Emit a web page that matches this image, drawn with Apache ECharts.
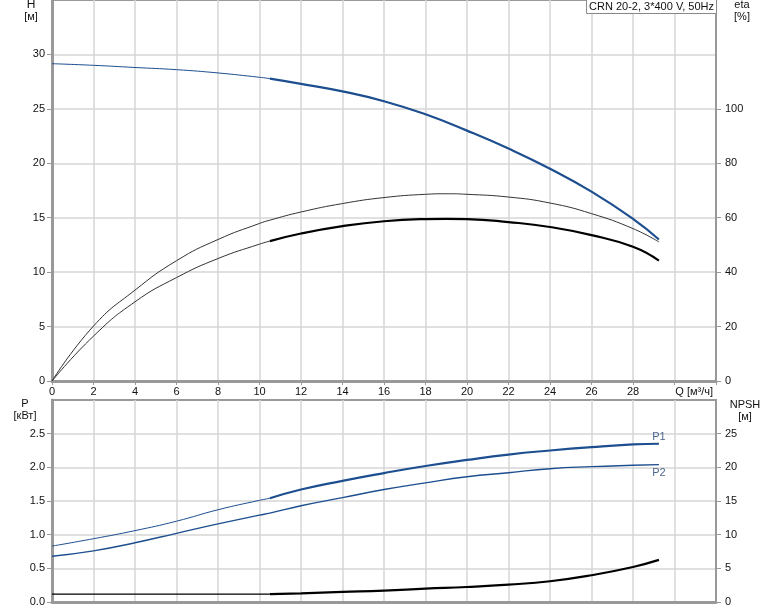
<!DOCTYPE html>
<html><head><meta charset="utf-8">
<script src="https://cdn.jsdelivr.net/npm/echarts@6/dist/echarts.min.js"></script>
<style>html,body{margin:0;padding:0;background:#fff}#c{width:774px;height:611px}</style>
</head><body><div id="c"></div>
<script>
// ---- data ----
const title = 'CRN 20-2, 3*400 V, 50Hz';
const opStart = 10.5;      // start of thick (operating) range, m³/h
const qH   = [0, 2, 4, 6, 8, 10, 10.5, 12, 14, 16, 18, 20, 22, 24, 26, 28, 29.25];
const head = [29.15, 29.0, 28.8, 28.6, 28.3, 27.9, 27.78, 27.3, 26.6, 25.7, 24.5, 23.0, 21.35, 19.5, 17.4, 14.9, 13.0];
const qEta = [0, 2, 4, 6, 8, 10, 10.5, 12, 14, 16, 18, 19, 20, 22, 24, 26, 28, 29.25];
const etaUpper = [0, 20.2, 33.4, 44.2, 52.0, 57.9, 59.1, 62.1, 65.2, 67.4, 68.6, 68.8, 68.6, 67.6, 65.4, 61.5, 56.0, 51.1];
const etaLower = [0, 16.5, 29.1, 38.0, 45.0, 50.3, 51.4, 54.2, 56.9, 58.7, 59.5, 59.6, 59.5, 58.4, 56.6, 53.6, 49.3, 44.2];
const qP  = [0, 2, 4, 6, 8, 10, 10.5, 12, 14, 16, 18, 20, 22, 24, 26, 28, 29.25];
const p1  = [0.83, 0.94, 1.06, 1.20, 1.37, 1.51, 1.54, 1.67, 1.80, 1.915, 2.02, 2.11, 2.19, 2.25, 2.30, 2.34, 2.35];
const p2  = [0.68, 0.76, 0.88, 1.02, 1.16, 1.29, 1.32, 1.43, 1.55, 1.67, 1.77, 1.86, 1.92, 1.98, 2.01, 2.03, 2.04];
const npsh = [1.17, 1.17, 1.17, 1.17, 1.17, 1.17, 1.18, 1.29, 1.49, 1.69, 1.98, 2.23, 2.58, 3.08, 3.97, 5.2, 6.25];
const qTicks = [0, 2, 4, 6, 8, 10, 12, 14, 16, 18, 20, 22, 24, 26, 28];
const hTicks = [0, 5, 10, 15, 20, 25, 30];
const etaTicks = [0, 20, 40, 60, 80, 100];
const pTicks = [0, 0.5, 1.0, 1.5, 2.0, 2.5];
const npshTicks = [0, 5, 10, 15, 20, 25];

// ---- helpers ----
function seg(xs, ys, lo, hi) {
  const out = [];
  for (let i = 0; i < xs.length; i++) if (xs[i] >= lo && xs[i] <= hi) out.push([xs[i], ys[i]]);
  return out;
}
const last = (xs, ys) => [[xs[xs.length - 1], ys[ys.length - 1]]];
const FONT = 'Liberation Sans, Arial, sans-serif';
const BLUE = '#1d4e8f';
const gridLine = { show: true, lineStyle: { color: '#d6d6d6', width: 1.5 } };
const lbl = { fontFamily: FONT, fontSize: 11, color: '#111' };
function line(name, data, xi, yi, color, width, extra) {
  return Object.assign({
    name, type: 'line', xAxisIndex: xi, yAxisIndex: yi, data,
    smooth: true, showSymbol: false, symbol: 'none', silent: true,
    lineStyle: { color, width }, itemStyle: { color }
  }, extra || {});
}
function tag(text, pt, xi, yi, pos, dist) {
  return {
    type: 'scatter', xAxisIndex: xi, yAxisIndex: yi, data: pt, symbolSize: 1, silent: true,
    itemStyle: { color: 'rgba(0,0,0,0)' },
    label: { show: true, formatter: text, position: pos, distance: dist, fontFamily: FONT, fontSize: 11, color: '#1d3f70' }
  };
}

const chart = echarts.init(document.getElementById('c'), null, { renderer: 'canvas' });
const xCommon = {
  type: 'value', min: 0, max: 32, interval: 2,
  splitLine: gridLine,
  axisLine: { show: true, onZero: false, lineStyle: { color: '#999', width: 3 } }
};
chart.setOption({
  animation: false,
  backgroundColor: '#fff',
  title: {
    text: title, right: 57, top: -1, padding: [2, 3, 2, 3],
    backgroundColor: '#fff', borderColor: '#888', borderWidth: 1,
    textStyle: { fontFamily: FONT, fontSize: 11, fontWeight: 'normal', color: '#111' }
  },
  grid: [
    { left: 52, right: 58, top: 0, height: 381, show: true, borderColor: '#999', borderWidth: 2, backgroundColor: 'transparent' },
    { left: 52, right: 58, top: 400, height: 202, show: true, borderColor: '#999', borderWidth: 2, backgroundColor: 'transparent' }
  ],
  xAxis: [
    Object.assign({}, xCommon, {
      gridIndex: 0,
      axisTick: { show: true, length: 4, lineStyle: { color: '#999' } },
      axisLabel: Object.assign({}, lbl, { margin: 5, customValues: qTicks })
    }),
    Object.assign({}, xCommon, {
      gridIndex: 1,
      axisTick: { show: false },
      axisLabel: { show: false }
    })
  ],
  yAxis: [
    {
      type: 'value', gridIndex: 0, min: 0, max: 35, interval: 5,
      splitLine: gridLine,
      axisLine: { show: true, lineStyle: { color: '#999', width: 3 } },
      axisTick: { show: true, length: 5, lineStyle: { color: '#999' }, customValues: hTicks },
      axisLabel: Object.assign({}, lbl, { margin: 7, customValues: hTicks })
    },
    {
      type: 'value', gridIndex: 0, position: 'right', min: 0, max: 140, interval: 20,
      splitLine: { show: false },
      axisLine: { show: true, lineStyle: { color: '#999', width: 2 } },
      axisTick: { show: true, length: 5, lineStyle: { color: '#999' }, customValues: etaTicks },
      axisLabel: Object.assign({}, lbl, { margin: 9, customValues: etaTicks })
    },
    {
      type: 'value', gridIndex: 1, min: 0, max: 3, interval: 0.5,
      splitLine: gridLine,
      axisLine: { show: true, lineStyle: { color: '#999', width: 3 } },
      axisTick: { show: true, length: 5, lineStyle: { color: '#999' }, customValues: pTicks },
      axisLabel: Object.assign({}, lbl, { margin: 7, customValues: pTicks, formatter: v => v.toFixed(1) })
    },
    {
      type: 'value', gridIndex: 1, position: 'right', min: 0, max: 30, interval: 5,
      splitLine: { show: false },
      axisLine: { show: true, lineStyle: { color: '#999', width: 2 } },
      axisTick: { show: true, length: 5, lineStyle: { color: '#999' }, customValues: npshTicks },
      axisLabel: Object.assign({}, lbl, { margin: 9, customValues: npshTicks })
    }
  ],
  series: [
    line('H thin', seg(qH, head, 0, opStart), 0, 0, BLUE, 1),
    line('H', seg(qH, head, opStart, 99), 0, 0, BLUE, 2.2),
    line('eta upper', seg(qEta, etaUpper, 0, 99), 0, 1, '#333', 1),
    line('eta thin', seg(qEta, etaLower, 0, opStart), 0, 1, '#333', 1),
    line('eta', seg(qEta, etaLower, opStart, 99), 0, 1, '#000', 2.2),
    line('P1 thin', seg(qP, p1, 0, opStart), 1, 2, BLUE, 1),
    line('P1', seg(qP, p1, opStart, 99), 1, 2, BLUE, 2.2),
    line('P2', seg(qP, p2, 0, 99), 1, 2, BLUE, 1.4),
    line('NPSH thin', seg(qP, npsh, 0, opStart), 1, 3, '#000', 1.2),
    line('NPSH', seg(qP, npsh, opStart, 99), 1, 3, '#000', 2.2),
    tag('P1', last(qP, p1), 1, 2, 'top', 1),
    tag('P2', last(qP, p2), 1, 2, 'bottom', 2)
  ],
  graphic: [
    { type: 'text', style: { text: 'H', x: 31, y: 5, textAlign: 'center', textVerticalAlign: 'middle', font: '12px ' + FONT, fill: '#111' } },
    { type: 'text', style: { text: '[м]', x: 31, y: 17, textAlign: 'center', textVerticalAlign: 'middle', font: '11px ' + FONT, fill: '#111' } },
    { type: 'text', style: { text: 'eta', x: 742, y: 5, textAlign: 'center', textVerticalAlign: 'middle', font: '11px ' + FONT, fill: '#111' } },
    { type: 'text', style: { text: '[%]', x: 742, y: 17, textAlign: 'center', textVerticalAlign: 'middle', font: '11px ' + FONT, fill: '#111' } },
    { type: 'text', style: { text: 'Q [м³/ч]', x: 713, y: 392, textAlign: 'right', textVerticalAlign: 'middle', font: '11px ' + FONT, fill: '#111' } },
    { type: 'text', style: { text: 'P', x: 25, y: 404, textAlign: 'center', textVerticalAlign: 'middle', font: '11px ' + FONT, fill: '#111' } },
    { type: 'text', style: { text: '[кВт]', x: 25, y: 416, textAlign: 'center', textVerticalAlign: 'middle', font: '11px ' + FONT, fill: '#111' } },
    { type: 'text', style: { text: 'NPSH', x: 745, y: 405, textAlign: 'center', textVerticalAlign: 'middle', font: '11px ' + FONT, fill: '#111' } },
    { type: 'text', style: { text: '[м]', x: 745, y: 417, textAlign: 'center', textVerticalAlign: 'middle', font: '11px ' + FONT, fill: '#111' } }
  ]
});
</script>
</body></html>
